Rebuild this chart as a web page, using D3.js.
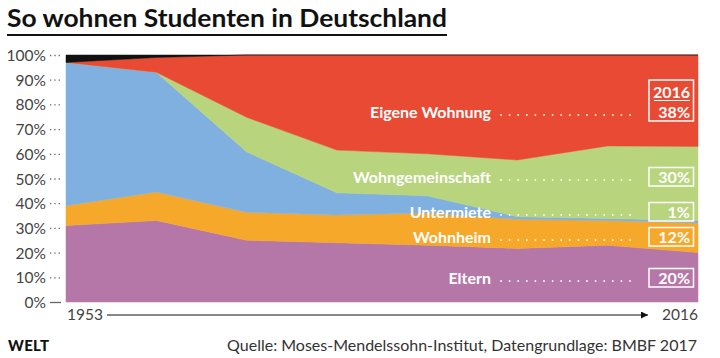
<!DOCTYPE html>
<html><head><meta charset="utf-8">
<script src="https://cdn.jsdelivr.net/npm/d3@7"></script>
<style>
html,body{margin:0;padding:0;background:#fff;}
svg{display:block;font-family:Lato,"Open Sans",sans-serif;}
</style></head>
<body><svg id="c" width="720" height="358"></svg>
<script>
const years = ["1953","1963","1973","1982","1991","2000","2009","2016"];
const keys = ["Eltern","Wohnheim","Untermiete","Wohngemeinschaft","Eigene Wohnung","Sonstige"];
const eltern      = [31, 33,   25,   24,   23, 21.7, 23,   20];
const wohnheim    = [8,  11.5, 11.3, 11.2, 13, 11.8, 10,   12];
const untermiete  = [58, 48.5, 24.5, 9,    7,  1,    0.8,  1];
const wg          = [0,  0,    14,   17.3, 17, 23,   29.4, 30];
const eigene      = [0,  6,    25.2, 38.5, 40, 42.5, 36.8, 37];
const sonstige    = [3,  1,    0,    0,    0,  0,    0,    0];
const yTicks = [0,10,20,30,40,50,60,70,80,90,100];
const labels2016 = ["20%","12%","1%","30%","38%"];
const colors = ["#b577a8","#f6a82b","#80b0e0","#b8d47d","#e94a33","#111111"];

const rows = years.map((y,i)=>({year:y, "Eltern":eltern[i], "Wohnheim":wohnheim[i], "Untermiete":untermiete[i],
  "Wohngemeinschaft":wg[i], "Eigene Wohnung":eigene[i], "Sonstige":sonstige[i]}));

const svg = d3.select("#c");
const x = d3.scalePoint().domain(years).range([66,698]);
const y = d3.scaleLinear().domain([0,100]).range([302,55]);

// title
svg.append("text").attr("x",7).attr("y",27).attr("font-size",25).attr("font-weight",700)
  .attr("fill","#111").attr("textLength",440).attr("lengthAdjust","spacingAndGlyphs")
  .text("So wohnen Studenten in Deutschland");
svg.append("line").attr("x1",7).attr("x2",447).attr("y1",35).attr("y2",35).attr("stroke","#111").attr("stroke-width",2);

const stack = d3.stack().keys(keys).order(d3.stackOrderNone).offset(d3.stackOffsetNone);
const series = stack(rows);
const area = d3.area().x(d=>x(d.data.year)).y0(d=>y(d[0])).y1(d=>y(d[1]));
svg.append("g").selectAll("path").data(series).join("path")
  .attr("d",area).attr("fill",(d,i)=>colors[i]).attr("stroke",(d,i)=>colors[i]).attr("stroke-width",0.5);

// y axis
const ya = svg.append("g").attr("transform","translate(66,0)")
  .call(d3.axisLeft(y).tickValues(yTicks).tickFormat(d=>d+"%").tickSize(0).tickPadding(20));
ya.select(".domain").remove();
ya.selectAll("text").attr("font-size",15.5).attr("fill","#444").attr("font-family","Lato,sans-serif").attr("dy","0.36em");
ya.selectAll(".tick").append("line").attr("x1",-16).attr("x2",-5)
  .attr("stroke","#666").attr("stroke-width",1.3)
  .attr("stroke-dasharray",d=>d===0?null:"1.3,3");

// x axis
const defs = svg.append("defs");
defs.append("marker").attr("id","arr").attr("viewBox","0 0 10 10").attr("refX",10).attr("refY",5)
  .attr("markerWidth",7).attr("markerHeight",7).attr("markerUnits","userSpaceOnUse").attr("orient","auto")
  .append("path").attr("d","M0,0L10,5L0,10z").attr("fill","#111");
svg.append("text").attr("x",x(years[0])+1).attr("y",320).attr("font-size",15.5).attr("fill","#444").text(years[0]);
svg.append("line").attr("x1",107).attr("x2",648).attr("y1",315).attr("y2",315)
  .attr("stroke","#111").attr("stroke-width",1).attr("marker-end","url(#arr)");
svg.append("text").attr("x",x(years[years.length-1])).attr("y",320).attr("text-anchor","end")
  .attr("font-size",15.5).attr("fill","#444").text(years[years.length-1]);

// source & logo
svg.append("text").attr("x",697).attr("y",351).attr("text-anchor","end").attr("font-size",16)
  .attr("fill","#333").text("Quelle: Moses-Mendelssohn-Institut, Datengrundlage: BMBF 2017");
svg.append("text").attr("x",8).attr("y",351).attr("font-size",15).attr("font-weight",900)
  .attr("fill","#111").attr("letter-spacing",0.3).text("WELT");

// labels
const labelY = [278, 237, 212, 177, 112];
const lab = svg.append("g").attr("fill","#fff").attr("font-weight",700).attr("font-size",16);
keys.slice(0,5).forEach((k,i)=>{
  lab.append("text").attr("x",491).attr("y",labelY[i]).attr("dy","0.36em").attr("text-anchor","end").text(k);
  for(let dx=501; dx<=638; dx+=8.6){
    lab.append("circle").attr("cx",dx).attr("cy",labelY[i]+3).attr("r",0.9).attr("fill","#fff");
  }
  const top = i===4 ? 80 : labelY[i]-9.5;
  const h = i===4 ? 41 : 18.5;
  lab.append("rect").attr("x",649).attr("y",top).attr("width",44.5).attr("height",h)
    .attr("fill","none").attr("stroke","#fff").attr("stroke-width",1.5);
  lab.append("text").attr("x",690).attr("y",labelY[i]).attr("dy","0.38em").attr("text-anchor","end").text(labels2016[i]);
});
lab.append("text").attr("x",690).attr("y",92).attr("dy","0.36em").attr("text-anchor","end").text(years[years.length-1]);
lab.append("line").attr("x1",654).attr("x2",690).attr("y1",100.5).attr("y2",100.5).attr("stroke","#fff").attr("stroke-width",1.2);
</script></body></html>
